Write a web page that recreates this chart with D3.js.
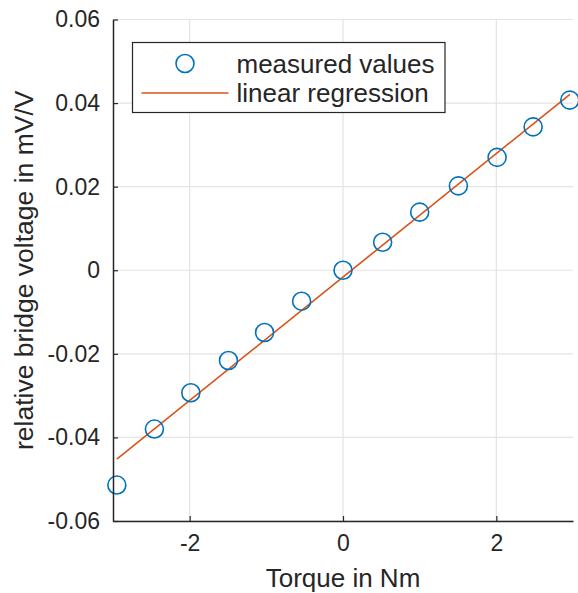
<!DOCTYPE html>
<html>
<head>
<meta charset="utf-8">
<script src="https://cdn.jsdelivr.net/npm/d3@7"></script>
<style>
  body { margin: 0; background: #fff; }
  text { font-family: "Liberation Sans", Arial, sans-serif; fill: #262626; }
</style>
</head>
<body>
<div id="wrapper"></div>
<script>
// measured torque (Nm) and bridge voltage (mV/V)
const torque = [-2.95, -2.46, -1.985, -1.494, -1.023, -0.54, 0, 0.517, 1.0, 1.505, 2.01, 2.48, 2.958]
const voltage = [-0.0514, -0.038, -0.0293, -0.0216, -0.0149, -0.0074, 0, 0.0067, 0.0139, 0.0202, 0.027, 0.0343, 0.0407]

// regression line end points
const fitTorque = [-2.95, 2.96]
const fitVoltage = [-0.0452, 0.0421]

const xTicks = [-2, 0, 2]
const xTickLabels = ['-2', '0', '2']
const yTicks = [-0.06, -0.04, -0.02, 0, 0.02, 0.04, 0.06]
const yTickLabels = ['-0.06', '-0.04', '-0.02', '0', '0.02', '0.04', '0.06']
const legendLabels = ['measured values', 'linear regression']

function draw(){
    let dimensions = {
        width: 578,
        height: 593,
        margin: { top: 19.5, right: 5, bottom: 72, left: 113 }
    }
    dimensions.boundedWidth = dimensions.width - dimensions.margin.left - dimensions.margin.right
    dimensions.boundedHeight = dimensions.height - dimensions.margin.top - dimensions.margin.bottom

    const blue = '#0072BD'
    const orange = '#D95319'
    const axisColor = '#262626'
    const fontFamily = '"Liberation Sans", Arial, sans-serif'

    const wrapper = d3.select('#wrapper')
        .append('svg')
            .attr('width', dimensions.width)
            .attr('height', dimensions.height)

    const bounds = wrapper.append('g')
        .attr('transform', `translate(${dimensions.margin.left},${dimensions.margin.top})`)

    const xScale = d3.scaleLinear()
        .domain([-3, 3])
        .range([0, dimensions.boundedWidth])
    const yScale = d3.scaleLinear()
        .domain([-0.06, 0.06])
        .range([dimensions.boundedHeight, 0])

    // grid
    bounds.append('g').selectAll('line')
        .data(xTicks)
        .enter().append('line')
            .attr('x1', d => xScale(d)).attr('x2', d => xScale(d))
            .attr('y1', 0).attr('y2', dimensions.boundedHeight)
            .attr('stroke', '#e3e3e3').attr('stroke-width', 1.2)
    bounds.append('g').selectAll('line')
        .data(yTicks)
        .enter().append('line')
            .attr('x1', 0).attr('x2', dimensions.boundedWidth)
            .attr('y1', d => yScale(d)).attr('y2', d => yScale(d))
            .attr('stroke', '#e3e3e3').attr('stroke-width', 1.2)

    // regression line
    const fit = fitTorque.map((t, i) => ({ t, v: fitVoltage[i] }))
    bounds.append('path')
        .datum(fit)
        .attr('d', d3.line().x(d => xScale(d.t)).y(d => yScale(d.v)))
        .attr('fill', 'none')
        .attr('stroke', orange)
        .attr('stroke-width', 1.6)

    // measured points
    const points = torque.map((t, i) => ({ t, v: voltage[i] }))
    bounds.selectAll('circle.pt')
        .data(points)
        .enter().append('circle')
            .attr('class', 'pt')
            .attr('cx', d => xScale(d.t))
            .attr('cy', d => yScale(d.v))
            .attr('r', 9)
            .attr('fill', 'none')
            .attr('stroke', blue)
            .attr('stroke-width', 1.6)

    // axes, ticks pointing inwards
    const xAxis = bounds.append('g')
        .attr('transform', `translate(0,${dimensions.boundedHeight})`)
        .call(d3.axisBottom(xScale).tickValues(xTicks)
            .tickFormat((d, i) => xTickLabels[i])
            .tickSizeInner(-5).tickSizeOuter(0).tickPadding(14))
    xAxis.select('.domain').attr('stroke', axisColor).attr('stroke-width', 1.5)
    xAxis.selectAll('.tick line').attr('stroke', axisColor).attr('stroke-width', 1.2)
    xAxis.selectAll('.tick text')
        .attr('fill', axisColor)
        .style('font-size', '23px')
        .style('font-family', fontFamily)

    const yAxis = bounds.append('g')
        .call(d3.axisLeft(yScale).tickValues(yTicks)
            .tickFormat((d, i) => yTickLabels[i])
            .tickSizeInner(-5).tickSizeOuter(0).tickPadding(13))
    yAxis.select('.domain').attr('stroke', axisColor).attr('stroke-width', 1.5)
    yAxis.selectAll('.tick line').attr('stroke', axisColor).attr('stroke-width', 1.2)
    yAxis.selectAll('.tick text')
        .attr('fill', axisColor)
        .style('font-size', '23px')
        .style('font-family', fontFamily)

    // axis labels
    bounds.append('text')
        .attr('x', dimensions.boundedWidth / 2)
        .attr('y', dimensions.boundedHeight + 66)
        .attr('text-anchor', 'middle')
        .style('font-size', '26px')
        .text('Torque in Nm')

    bounds.append('text')
        .attr('transform', `translate(${-dimensions.margin.left + 33},${dimensions.boundedHeight / 2}) rotate(-90)`)
        .attr('text-anchor', 'middle')
        .style('font-size', '26.5px')
        .text('relative bridge voltage in mV/V')

    // legend
    const legend = wrapper.append('g')
        .attr('transform', 'translate(132.5,42.5)')
    legend.append('rect')
        .attr('width', 312.5)
        .attr('height', 70)
        .attr('fill', '#fff')
        .attr('stroke', axisColor)
        .attr('stroke-width', 1.2)
    legend.append('circle')
        .attr('cx', 52.5).attr('cy', 21)
        .attr('r', 9)
        .attr('fill', 'none')
        .attr('stroke', blue)
        .attr('stroke-width', 1.6)
    legend.append('line')
        .attr('x1', 9).attr('x2', 96)
        .attr('y1', 50.5).attr('y2', 50.5)
        .attr('stroke', orange)
        .attr('stroke-width', 1.6)
    legend.selectAll('text')
        .data(legendLabels)
        .enter().append('text')
            .attr('x', 104)
            .attr('y', (d, i) => 21 + i * 29.5)
            .attr('dy', '0.35em')
            .style('font-size', '26px')
            .text(d => d)
}

draw()
</script>
</body>
</html>
